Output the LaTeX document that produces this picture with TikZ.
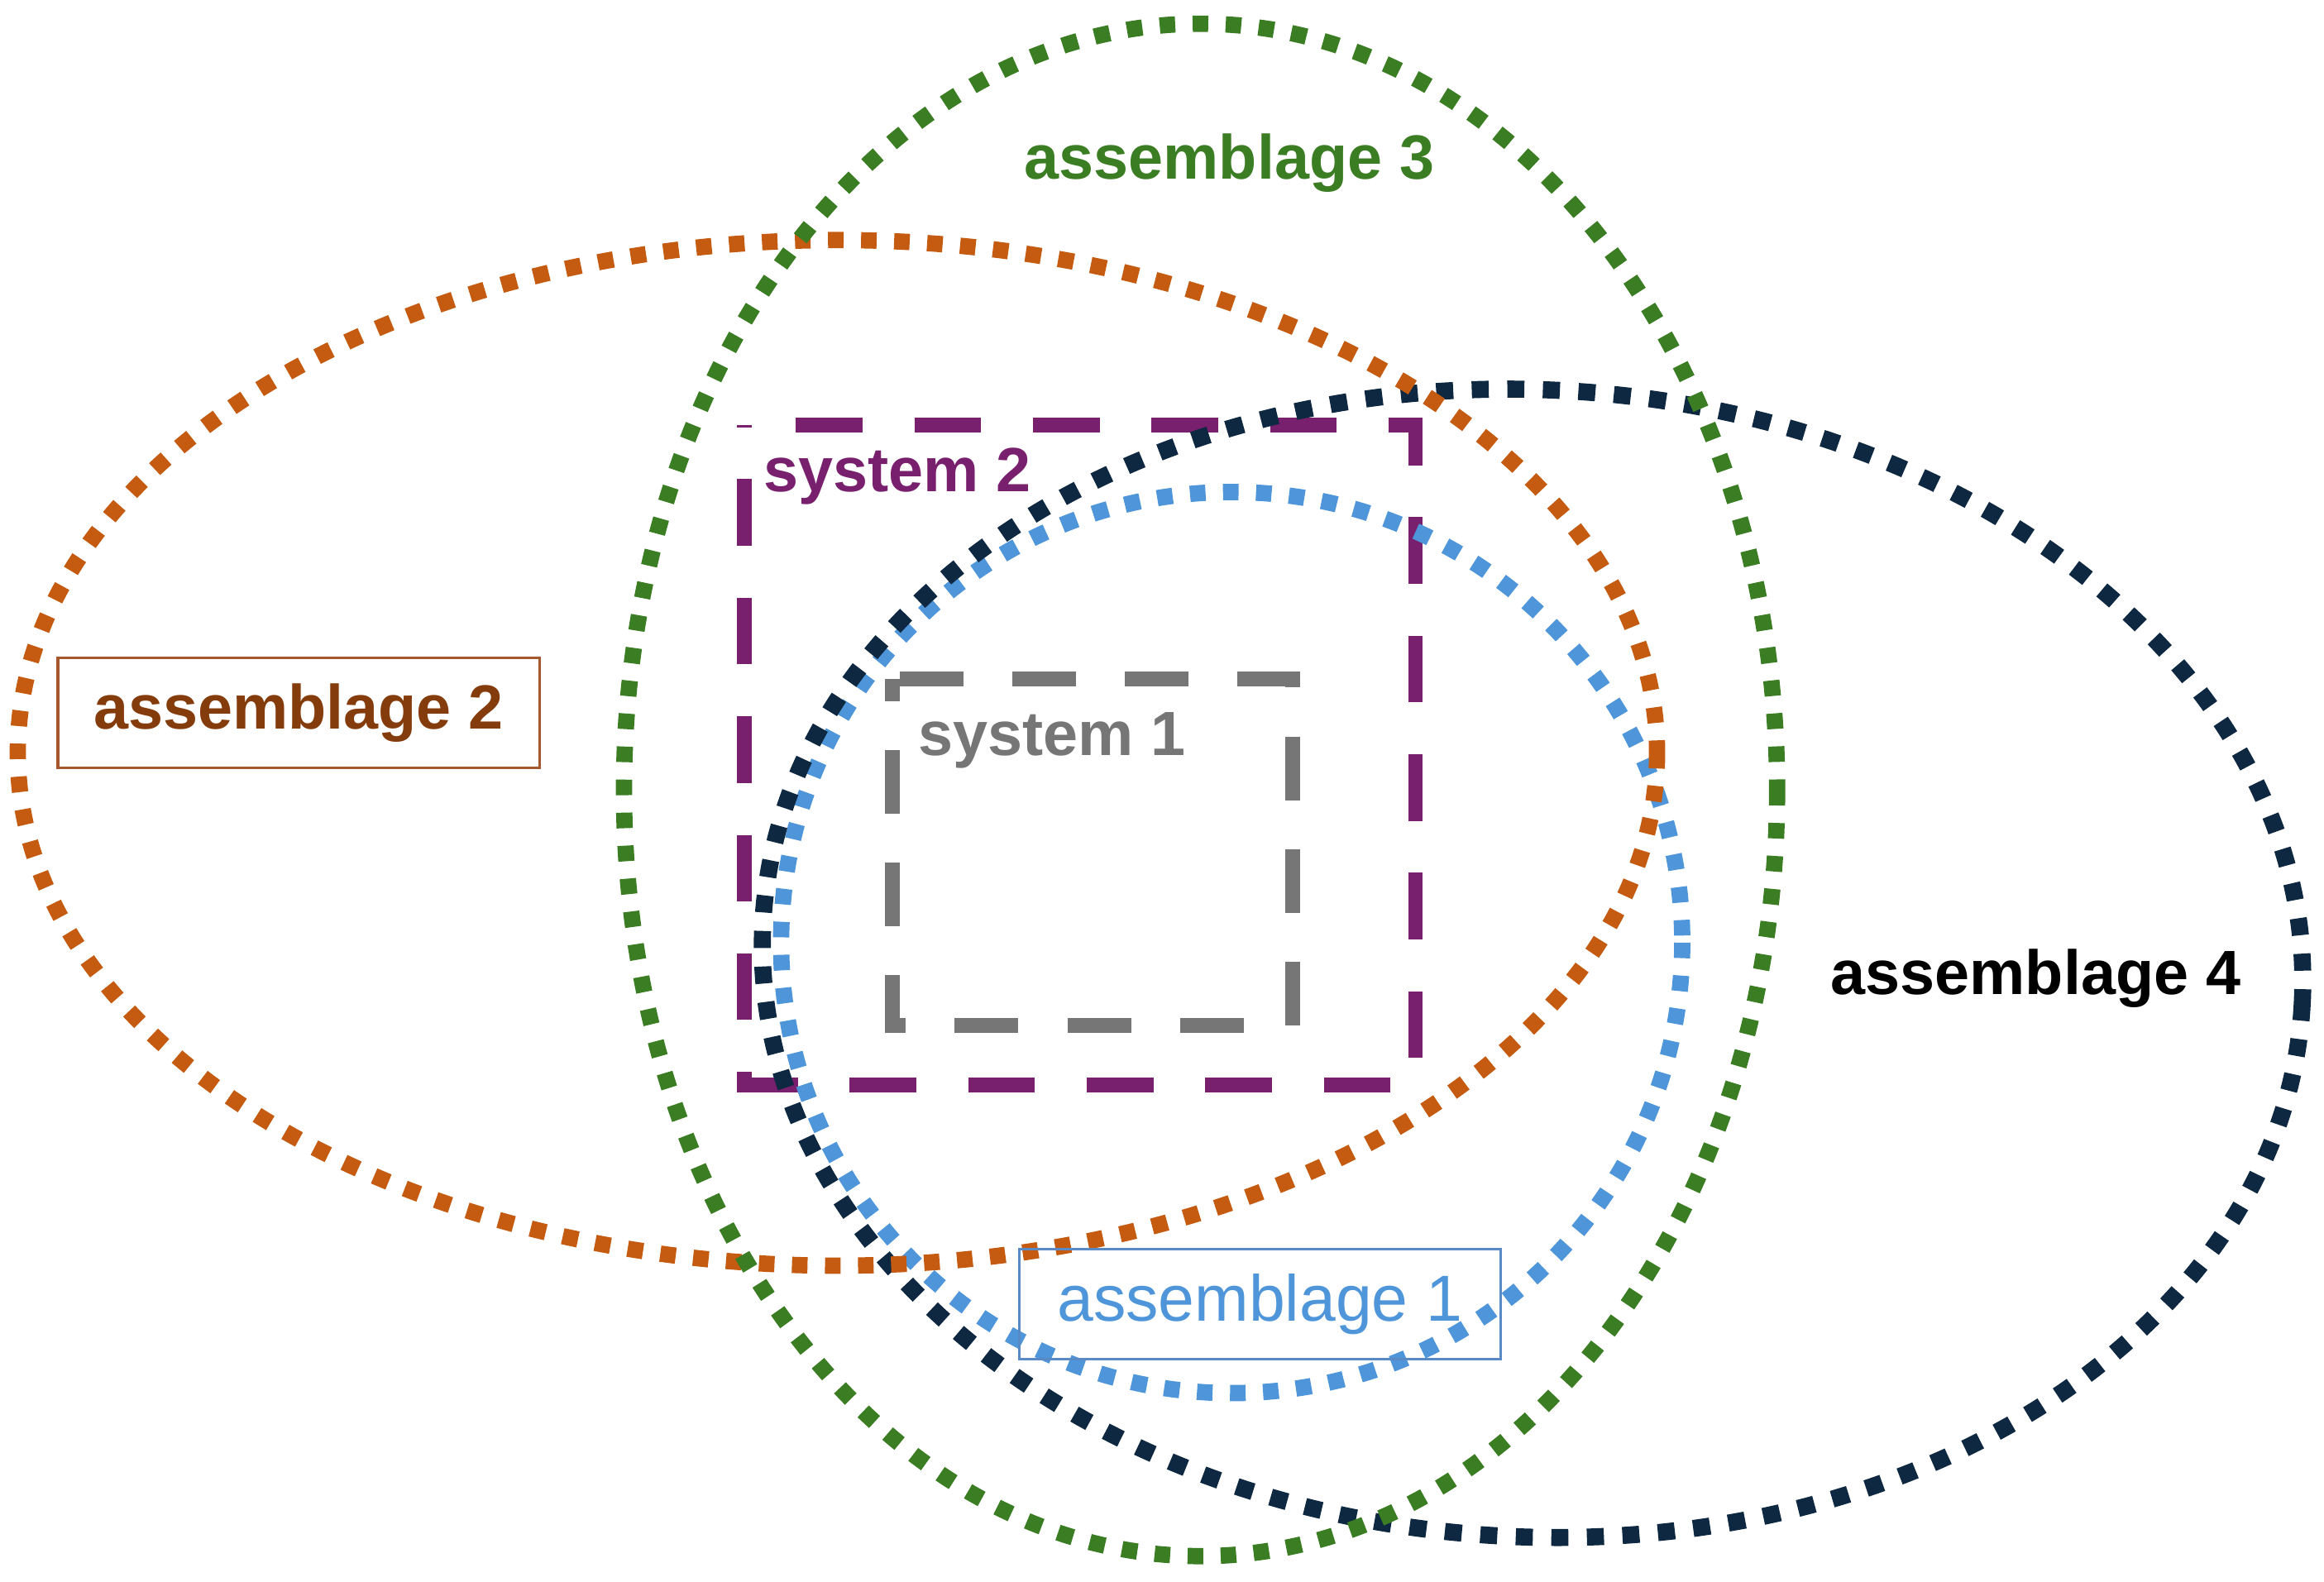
\documentclass[tikz,border=0pt]{standalone}
\usepackage{fontspec}
\setmainfont{Liberation Sans}
\definecolor{orangeC}{HTML}{C55A11}
\definecolor{greenC}{HTML}{3B7D23}
\definecolor{navyC}{HTML}{0E2841}
\definecolor{blueC}{HTML}{4E95D9}
\definecolor{purpleC}{HTML}{78206E}
\definecolor{greyC}{HTML}{767676}
\definecolor{brownT}{HTML}{843C0C}
\definecolor{brownB}{HTML}{A5582E}
\definecolor{blueB}{HTML}{5A8AC6}
\begin{document}
\begin{tikzpicture}[x=0.02cm,y=-0.02cm,
  dotline/.style={line width=0.22cm, dash pattern=on 0.21cm off 0.236cm},
  dotlinewide/.style={line width=0.23cm, dash pattern=on 0.23cm off 0.25cm},
  sysline/.style={line width=0.2cm, dash pattern=on 0.9cm off 0.7cm, dash phase=0.9cm},
  sysline1/.style={line width=0.2cm, dash pattern=on 0.86cm off 0.66cm, dash phase=1.42cm},
  lblbold/.style={font=\bfseries\fontsize{24}{28}\selectfont, inner sep=0pt},
  lblreg/.style={font=\fontsize{25}{29}\selectfont, inner sep=0pt},
  lblbox/.style={line width=1pt, minimum width=6.5cm, minimum height=1.48cm}]
\useasboundingbox (0,0) rectangle (1568,1067);

% systems
\draw[sysline, purpleC] (502,287) -- (955,287) -- (955,732) -- (502,732) -- cycle;
\draw[sysline1, greyC] (602,458) -- (872,458) -- (872,692) -- (602,692) -- cycle;

% assemblages
\draw[dotline, blueC] (831,636) ellipse [x radius=304, y radius=304];
\draw[dotlinewide, navyC, rotate around={-3:(1034,650)}] (1034,650) ellipse [x radius=520, y radius=387];
\draw[dotline, orangeC] (565,508) ellipse [x radius=553, y radius=346];
\draw[dotline, greenC] (810,533) ellipse [x radius=389, y radius=517];

% labels
\node[lblbold, text=greenC, anchor=base] (a3) at (829.5,121) {assemblage 3};
\node[lblbold, text=black, anchor=base] (a4) at (1373.5,671) {assemblage 4};
\node[lblbold, text=purpleC, anchor=base] (s2) at (605.5,332) {system 2};
\node[lblbold, text=greyC, anchor=base] (s1) at (710,510) {system 1};
\node[lblbox, lblbold, draw=brownB, text=brownT] (a2) at (201.5,481) {assemblage 2};
\node[lblbox, lblreg, draw=blueB, text=blueC] (a1) at (850,880) {assemblage 1};
\end{tikzpicture}
\end{document}
